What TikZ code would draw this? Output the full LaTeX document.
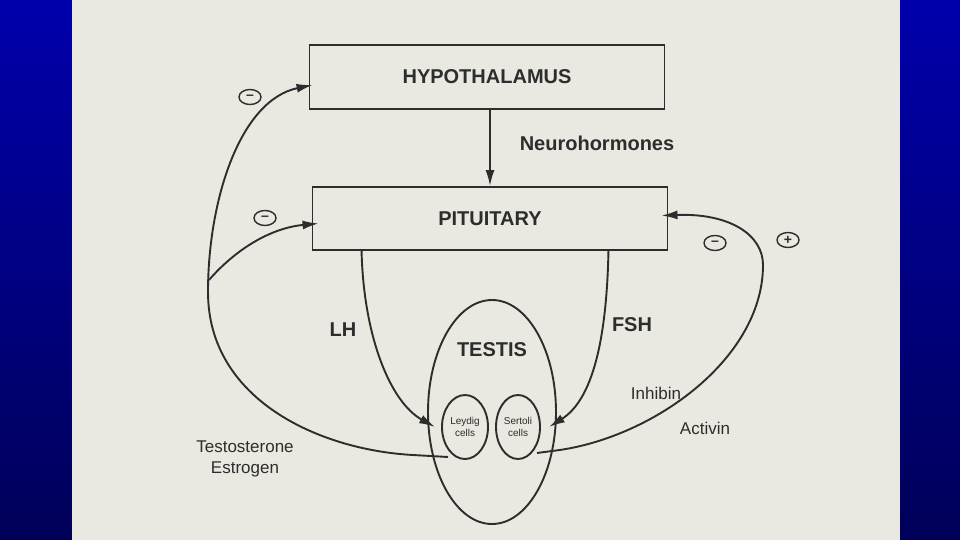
\documentclass[tikz,border=0pt]{standalone}
\usepackage{fontspec}
\setmainfont{Liberation Sans}
\usetikzlibrary{arrows.meta, positioning, shapes.geometric}
\definecolor{paper}{RGB}{233,232,225}
\definecolor{ink}{RGB}{45,45,45}
\definecolor{frametop}{RGB}{0,0,172}
\definecolor{framebot}{RGB}{0,0,88}
\tikzstyle{organ} = [draw=ink, line width=1.9pt, rectangle, minimum width=355pt, minimum height=64pt, font=\fontsize{20}{22}\selectfont\bfseries, text=ink]
\tikzstyle{cell} = [draw=ink, line width=1.9pt, ellipse, minimum width=46pt, minimum height=64pt, inner sep=0pt, align=center, font=\fontsize{10}{12}\selectfont, text=ink]
\tikzstyle{sign} = [draw=ink, line width=1.4pt, ellipse, minimum width=22pt, minimum height=15pt, inner sep=0pt, font=\fontsize{14}{14}\selectfont\bfseries, text=ink]
\tikzstyle{hormone} = [font=\fontsize{20}{22}\selectfont\bfseries, text=ink]
\tikzstyle{factor} = [font=\fontsize{17}{21}\selectfont, text=ink, align=center]
\tikzstyle{path} = [-{Latex[length=16pt, width=9pt]}, line width=1.9pt, draw=ink]
\tikzstyle{feedback} = [line width=1.9pt, draw=ink]

\begin{document}
\begin{tikzpicture}[x=1pt, y=-1pt]
    % Slide.
    \useasboundingbox (0,0) rectangle (960,540);
    \shade [top color=frametop, bottom color=framebot] (0,0) rectangle (72,540);
    \shade [top color=frametop, bottom color=framebot] (900,0) rectangle (960,540);
    \fill [paper] (72,0) rectangle (900,540);

    % Glands.
    \node (hypothalamus) [organ] at (487,77) {HYPOTHALAMUS};
    \node (pituitary) [organ, minimum height=63pt] at (490,218.5) {PITUITARY};
    \node (testis) [draw=ink, line width=1.9pt, ellipse, minimum width=128pt, minimum height=224pt] at (492,412) {};
    \node (testislabel) [hormone] at (492,350) {TESTIS};
    \node (leydig) [cell] at (465,427) {Leydig\\cells};
    \node (sertoli) [cell, minimum width=44pt] at (518,427) {Sertoli\\cells};

    % Labels.
    \node (neuro) [hormone] at (597,143) {Neurohormones};
    \node (lh) [hormone] at (343,330) {LH};
    \node (fsh) [hormone] at (632,325) {FSH};
    \node (steroids) [factor] at (245,459) {Testosterone\\Estrogen};
    \node (inhibin) [factor] at (656,393) {Inhibin};
    \node (activin) [factor] at (705,428) {Activin};

    \node (minus1) [sign] at (250,97) {--};
    \node (minus2) [sign] at (265,218) {--};
    \node (minus3) [sign] at (715,243) {--};
    \node (plus) [sign] at (788,240) {+};

    % Arrows.
    \draw [path] (hypothalamus.south -| pituitary) -- (pituitary.north);
    \draw [path] (pituitary.south west) ++(50,0) .. controls +(2,85) and +(-45,-25) .. ([xshift=-6pt]leydig.west);
    \draw [path] (pituitary.south east) ++(-60,0) .. controls +(-2,100) and +(40,-25) .. ([xshift=8pt]sertoli.east);

    % Feedback loops.
    \coordinate (leftout) at (448,457);
    \coordinate (rightout) at (537,453);
    \coordinate (fork) at (209,280);
    \draw [feedback] (leftout) -- (413,455) .. controls (320,450) and (208,400) .. (208,292);
    \draw [path] (208,292) .. controls (208,200) and (240,100) .. ([xshift=4pt, yshift=-8pt]hypothalamus.west);
    \draw [path] (fork) .. controls (235,250) and (270,228) .. ([xshift=7pt, yshift=-5pt]pituitary.west);
    \draw [feedback] (rightout) -- (552,451) .. controls (650,440) and (763,360) .. (763,265);
    \draw [path] (763,265) .. controls (763,235) and (730,213) .. ([xshift=-7pt, yshift=3pt]pituitary.east);
\end{tikzpicture}
\end{document}
